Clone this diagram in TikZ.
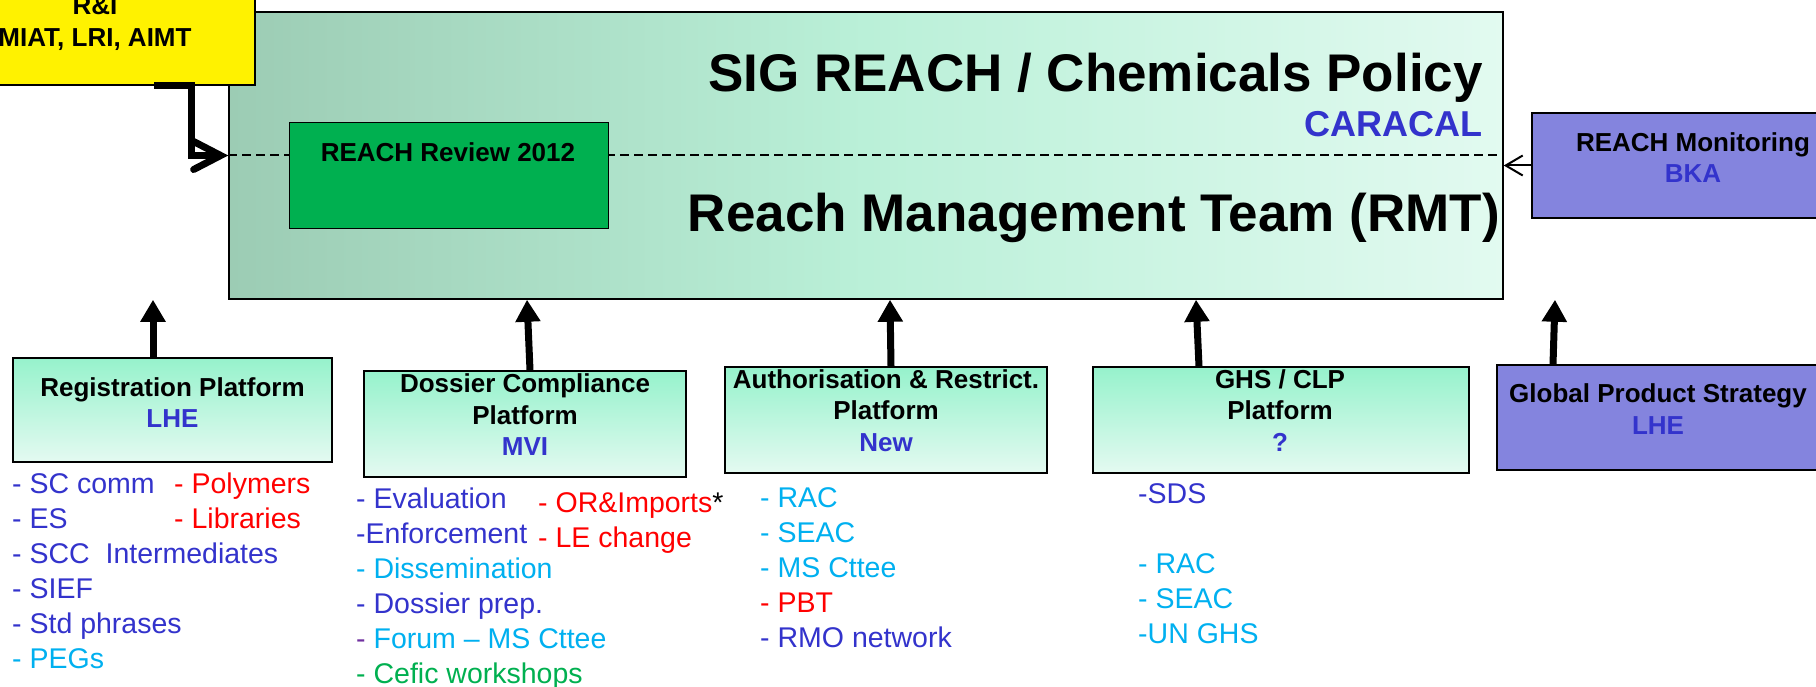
\documentclass[tikz,border=0pt]{standalone}
\usepackage{fontspec}
\setmainfont{Liberation Sans}
\usepackage{xcolor}
\usetikzlibrary{positioning, calc, arrows.meta}
\definecolor{labelblue}{RGB}{51,51,204}
\definecolor{itemcyan}{RGB}{0,176,240}
\definecolor{itemred}{RGB}{255,0,0}
\definecolor{itemgreen}{RGB}{0,176,80}
\definecolor{itempurple}{RGB}{112,48,160}
\definecolor{boxpurple}{RGB}{132,132,222}
\definecolor{rmtleft}{RGB}{156,204,180}
\definecolor{rmtmid}{RGB}{186,240,216}
\definecolor{rmtright}{RGB}{226,250,240}
\definecolor{plattop}{RGB}{150,242,204}
\definecolor{platbottom}{RGB}{228,250,241}
\definecolor{reviewgreen}{RGB}{0,176,80}
\tikzset{
    platform/.style={draw, line width=1.5pt, top color=plattop, bottom color=platbottom, minimum width=#1, minimum height=106pt, inner sep=0pt}, % platform boxes
    purplebox/.style={draw, line width=1.5pt, fill=boxpurple, minimum width=322pt, minimum height=105pt, inner sep=0pt},
    boxtext/.style={align=center, inner sep=0pt, font=\bfseries\fontsize{26}{31.5}\selectfont},
    bigtitle/.style={anchor=base east, inner sep=0pt, font=\bfseries\fontsize{53}{60}\selectfont},
    listitem/.style={anchor=base west, inner sep=0pt, font=\fontsize{28.5}{35}\selectfont},
    feedarrow/.style={line width=7pt, -{Triangle[length=22pt, width=24pt]}},
    bentarrow/.style={line width=7pt, -{Straight Barb[length=27pt, width=28pt, line cap=round]}},
    thinarrow/.style={line width=2pt, -{Straight Barb[length=17pt, width=20pt]}},
    reviewline/.style={line width=2pt, dash pattern=on 8.5pt off 5.5pt},
}

\begin{document}
\begin{tikzpicture}[x=1pt, y=-1pt]
    \useasboundingbox (0,0) rectangle (1816,687);
    \fill[white] (0,0) rectangle (1816,687);
    \clip (0,0) rectangle (1816,687);

    % Hauptbox
    \node[draw, line width=1.5pt, left color=rmtleft, right color=rmtright, middle color=rmtmid,
          minimum width=1274pt, minimum height=287pt, inner sep=0pt] (rmt) at (866,155.5) {};
    \draw[reviewline] (rmt.west) -- (rmt.east);
    \node[draw, line width=1.5pt, fill=reviewgreen, minimum width=319pt, minimum height=106pt] (review) at (449,175.5) {};
    \node[boxtext] (reviewtxt) at (448,152) {REACH Review 2012};
    \node[bigtitle] (sig) at (1483,92) {SIG REACH / Chemicals Policy};
    \node[anchor=base east, inner sep=0pt, text=labelblue, font=\bfseries\fontsize{36}{40}\selectfont] (caracal) at (1483,137) {CARACAL};
    \node[bigtitle] (team) at (1500,232) {Reach Management Team (RMT)};

    % R&I
    \node[draw, line width=1.5pt, fill=yellow, minimum width=320pt, minimum height=145pt] (rni) at (95,12.5) {};
    \node[boxtext] (rnitxt) at (95,23.5) {R\&I\\MIAT, LRI, AIMT};
    \draw[bentarrow] ([xshift=59pt]rni.south) -- ++(37,0) |- (rmt.west);

    % rechts
    \node[purplebox] (mon) at (1693,165.5) {};
    \node[boxtext] (montxt) at (1693,157.5) {REACH Monitoring\\\textcolor{labelblue}{BKA}};
    \draw[thinarrow] (mon.west) -- (mon.west -| rmt.east);
    \node[purplebox] (gps) at (1658,417.5) {};
    \node[boxtext] (gpstxt) at (1658,409) {Global Product Strategy\\\textcolor{labelblue}{LHE}};
    \draw[feedarrow] ([xshift=-105pt]gps.north) -- ($(gps.north |- rmt.south)+(-103,0)$);

    % Plattformen
    \node[platform=319pt, minimum height=104pt] (reg) at (172.5,410) {};
    \node[boxtext] (regtxt) at (172.5,402.5) {Registration Platform\\\textcolor{labelblue}{LHE}};
    \node[platform=322pt] (dos) at (525,424) {};
    \node[boxtext] (dostxt) at (525,415) {Dossier Compliance\\Platform\\\textcolor{labelblue}{MVI}};
    \node[platform=322pt] (aut) at (886,420) {};
    \node[boxtext] (auttxt) at (886,410.5) {Authorisation \& Restrict.\\Platform\\\textcolor{labelblue}{New}};
    \node[platform=376pt] (ghs) at (1281,420) {};
    \node[boxtext] (ghstxt) at (1280,410.5) {GHS / CLP\\Platform\\\textcolor{labelblue}{?}};

    \draw[feedarrow] ([xshift=-19.5pt]reg.north) -- ($(reg.north |- rmt.south)+(-19.5,0)$);
    \draw[feedarrow] ([xshift=5pt]dos.north) -- ($(dos.north |- rmt.south)+(2,0)$);
    \draw[feedarrow] ([xshift=5pt]aut.north) -- ($(aut.north |- rmt.south)+(4,0)$);
    \draw[feedarrow] ([xshift=-82pt]ghs.north) -- ($(ghs.north |- rmt.south)+(-85,0)$);

    % Listen
    \node[listitem, text=labelblue] (reg1) at (12,493) {- SC comm};
    \node[listitem, text=labelblue] (reg2) at (12,528) {- ES};
    \node[listitem, text=labelblue] (reg3) at (12,563) {- SCC\ \ Intermediates};
    \node[listitem, text=labelblue] (reg4) at (12,598) {- SIEF};
    \node[listitem, text=labelblue] (reg5) at (12,633) {- Std phrases};
    \node[listitem, text=itemcyan] (reg6) at (12,668) {- PEGs};
    \node[listitem, text=itemred] (regb1) at (174,493) {- Polymers};
    \node[listitem, text=itemred] (regb2) at (174,528) {- Libraries};

    \node[listitem, text=labelblue] (dos1) at (356,508) {- Evaluation};
    \node[listitem, text=labelblue] (dos2) at (356,543) {-Enforcement};
    \node[listitem, text=itemcyan] (dos3) at (356,578) {- Dissemination};
    \node[listitem, text=labelblue] (dos4) at (356,613) {- Dossier prep.};
    \node[listitem] (dos5) at (356,648) {\textcolor{itempurple}{-} \textcolor{itemcyan}{Forum – MS Cttee}};
    \node[listitem, text=itemgreen] (dos6) at (356,683) {- Cefic workshops};
    \node[listitem] (dosb1) at (538,512) {\textcolor{itemred}{- OR\&Imports}*};
    \node[listitem, text=itemred] (dosb2) at (538,547) {- LE change};

    \node[listitem, text=itemcyan] (aut1) at (760,507) {- RAC};
    \node[listitem, text=itemcyan] (aut2) at (760,542) {- SEAC};
    \node[listitem, text=itemcyan] (aut3) at (760,577) {- MS Cttee};
    \node[listitem, text=itemred] (aut4) at (760,612) {- PBT};
    \node[listitem, text=labelblue] (aut5) at (760,647) {- RMO network};

    \node[listitem, text=labelblue] (ghs1) at (1138,503) {-SDS};
    \node[listitem, text=itemcyan] (ghs2) at (1138,573) {- RAC};
    \node[listitem, text=itemcyan] (ghs3) at (1138,608) {- SEAC};
    \node[listitem, text=itemcyan] (ghs4) at (1138,643) {-UN GHS};
\end{tikzpicture}
\end{document}
